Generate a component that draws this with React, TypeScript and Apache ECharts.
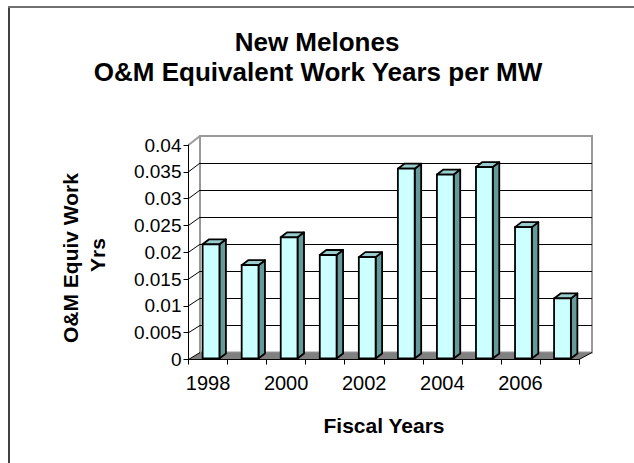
import React, { useEffect, useRef } from "react";
import * as echarts from "echarts";

const years = ["1998", "1999", "2000", "2001", "2002", "2003", "2004", "2005", "2006", "2007"];
const workYears = [0.0213, 0.0174, 0.0226, 0.0193, 0.0189, 0.0354, 0.0343, 0.0357, 0.0245, 0.0112];
const yMin = 0;
const yMax = 0.04;
const yStep = 0.005;

const titleLines = ["New Melones", "O&M Equivalent Work Years per MW"];
const yTitleLines = ["O&M Equiv Work", "Yrs"];
const xTitle = "Fiscal Years";

const FONT = "'Liberation Sans', Arial, sans-serif";
const W = 634;
const H = 463;
// front plane
const FL = 188.5, FR = 579, FT = 145, FB = 359.5;
// back wall
const BL = 200, BR = 592, BT = 136, BB = 352.5;

export default function App() {
  const ref = useRef<HTMLDivElement>(null);
  useEffect(() => {
    if (!ref.current) return;
    const chart = echarts.init(ref.current, null, { renderer: "svg" });
    const nTicks = Math.round((yMax - yMin) / yStep) + 1;
    const splitColors = Array.from({ length: nTicks }, (_, i) =>
      i === 0 || i === nTicks - 1 ? "rgba(0,0,0,0)" : "#000"
    );
    const option: any = {
      animation: false,
      backgroundColor: "#fff",
      grid: [
        { left: FL, right: W - FR, top: FT, bottom: H - FB },
        {
          left: BL, right: W - BR, top: BT, bottom: H - BB,
          show: true, backgroundColor: "#fff", borderColor: "#999", borderWidth: 2,
        },
      ],
      xAxis: [
        {
          type: "category", gridIndex: 0, data: years, boundaryGap: true, z: 6,
          axisLine: { lineStyle: { color: "#000", width: 1 } },
          axisTick: { show: true, interval: 0, length: 5, lineStyle: { color: "#000" } },
          axisLabel: { interval: 1, fontSize: 20, margin: 13, color: "#000", fontFamily: FONT },
        },
        { type: "category", gridIndex: 1, data: years, show: false },
      ],
      yAxis: [
        {
          type: "value", gridIndex: 0, min: yMin, max: yMax, interval: yStep, z: 6,
          axisLine: { show: true, lineStyle: { color: "#000", width: 1 } },
          axisTick: { show: true, length: 5, lineStyle: { color: "#000" } },
          axisLabel: { fontSize: 19, margin: 7, color: "#000", fontFamily: FONT },
          splitLine: { show: false },
        },
        {
          type: "value", gridIndex: 1, min: yMin, max: yMax, interval: yStep,
          axisLine: { show: false }, axisTick: { show: false }, axisLabel: { show: false },
          splitLine: { show: true, lineStyle: { color: splitColors, width: 1 } },
        },
      ],
      series: [
        {
          type: "custom",
          xAxisIndex: 0,
          yAxisIndex: 0,
          z: 10,
          data: workYears.map((v, i) => [i, v]),
          encode: { x: 0, y: 1 },
          renderItem: (params: any, api: any) => {
            const idx = api.value(0);
            const v = api.value(1);
            const top = api.coord([idx, v]);
            const base = api.coord([idx, 0]);
            const band = api.size([1, 0])[0];
            const w = band * 0.43;
            const dx = 6.5, dy = -5, ox = 3, oy = -1;
            const x0 = top[0] - w / 2 + ox;
            const x1 = x0 + w;
            const yT = top[1] + oy;
            const yB = base[1] + oy;
            const lw = 1.8;
            return {
              type: "group",
              children: [
                {
                  type: "polygon",
                  shape: { points: [[x1, yB], [x1 + dx, yB + dy], [x1 + dx, yT + dy], [x1, yT]] },
                  style: { fill: "#669999", stroke: "#000", lineWidth: lw, lineJoin: "round" },
                },
                {
                  type: "polygon",
                  shape: { points: [[x0, yT], [x0 + dx, yT + dy], [x1 + dx, yT + dy], [x1, yT]] },
                  style: { fill: "#99cccc", stroke: "#000", lineWidth: lw, lineJoin: "round" },
                },
                {
                  type: "rect",
                  shape: { x: x0, y: yT, width: w, height: yB - yT },
                  style: { fill: "#ccffff", stroke: "#000", lineWidth: lw },
                },
              ],
            };
          },
        },
      ],
    };
    chart.setOption(option);

    const graphics: any[] = [];
    // outer frame
    graphics.push({ type: "line", z: 20, shape: { x1: 9, y1: 7, x2: 9, y2: H }, style: { stroke: "#404040", lineWidth: 2 } });
    graphics.push({ type: "line", z: 20, shape: { x1: 8, y1: 7, x2: W, y2: 7 }, style: { stroke: "#707070", lineWidth: 2 } });
    // floor
    graphics.push({
      type: "polygon", z: 5,
      shape: { points: [[FL, FB], [FR, FB], [BR, BB], [BL, BB]] },
      style: { fill: "#808080" },
    });
    graphics.push({ type: "line", z: 6, shape: { x1: FR, y1: FB, x2: BR, y2: BB }, style: { stroke: "#000", lineWidth: 1 } });
    // side-wall diagonals
    for (let i = 0; i < nTicks; i++) {
      const v = yMin + i * yStep;
      const yf = chart.convertToPixel({ yAxisIndex: 0 }, v) as number;
      const yb = chart.convertToPixel({ yAxisIndex: 1 }, v) as number;
      graphics.push({
        type: "line", z: 6,
        shape: { x1: FL, y1: yf, x2: BL, y2: yb },
        style: { stroke: i === nTicks - 1 ? "#999" : "#000", lineWidth: i === nTicks - 1 ? 2 : 1 },
      });
    }
    // titles
    graphics.push({
      type: "text", z: 20, x: 317, y: 42,
      style: { text: titleLines[0], font: `bold 26px ${FONT}`, fill: "#000", align: "center", verticalAlign: "middle" },
    });
    graphics.push({
      type: "text", z: 20, x: 318, y: 71.5,
      style: { text: titleLines[1], font: `bold 26px ${FONT}`, fill: "#000", align: "center", verticalAlign: "middle" },
    });
    graphics.push({
      type: "text", z: 20, x: 70, y: 258, rotation: Math.PI / 2,
      style: { text: yTitleLines[0], font: `bold 21px ${FONT}`, fill: "#000", align: "center", verticalAlign: "middle" },
    });
    graphics.push({
      type: "text", z: 20, x: 97.5, y: 255, rotation: Math.PI / 2,
      style: { text: yTitleLines[1], font: `bold 21px ${FONT}`, fill: "#000", align: "center", verticalAlign: "middle" },
    });
    graphics.push({
      type: "text", z: 20, x: 384, y: 425,
      style: { text: xTitle, font: `bold 21px ${FONT}`, fill: "#000", align: "center", verticalAlign: "middle" },
    });
    chart.setOption({ graphic: graphics });

    return () => chart.dispose();
  }, []);
  return (
    <div
      ref={ref}
      style={{ position: "absolute", left: 0, top: 0, width: W, height: H }}
    />
  );
}
